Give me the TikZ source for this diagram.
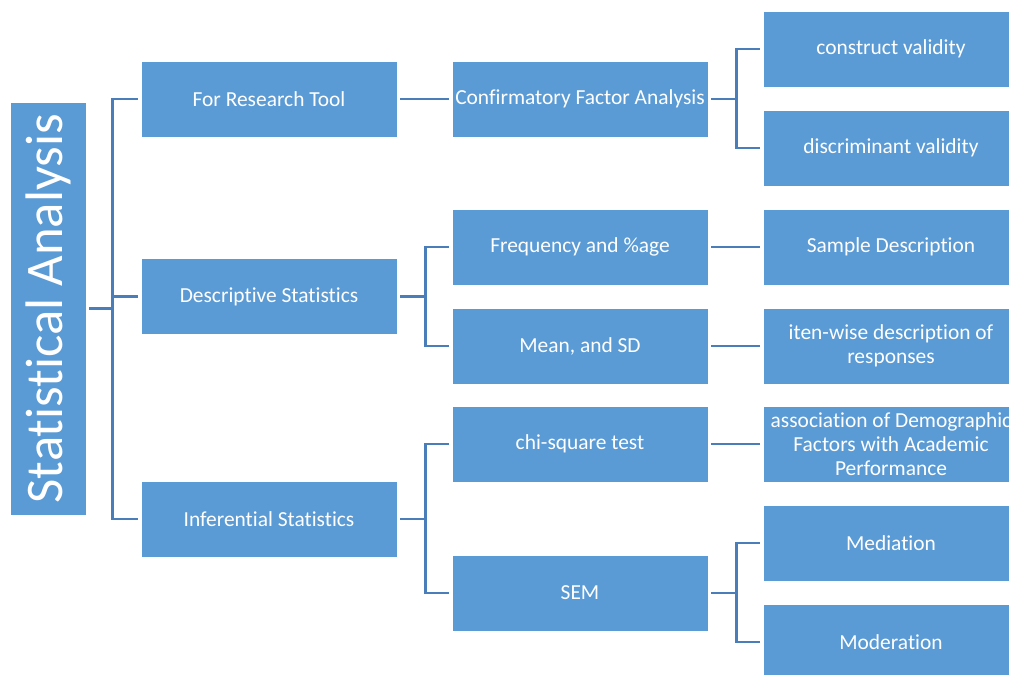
\documentclass[tikz,border=0pt]{standalone}
\usepackage{fontspec}
\setmainfont{Carlito}[Ligatures=NoCommon]
\usetikzlibrary{positioning}
\definecolor{boxblue}{HTML}{5B9BD5}
\definecolor{linkblue}{HTML}{4A7EBB}

\begin{document}
\begin{tikzpicture}[x=1bp,y=-1bp,
  box/.style={fill=boxblue,draw=white,line width=0.8bp,text=white,
    minimum width=256bp,minimum height=76bp,inner sep=0pt,align=center,
    font=\fontsize{21.5}{24}\selectfont},
  link/.style={draw=linkblue,line width=2.3bp}]
  \useasboundingbox (0,0) rectangle (1009,675);
  \clip (0,0) rectangle (1009,675);
  % root
  \node[box,rotate=90,minimum width=413bp,minimum height=76bp,
    font=\fontsize{53}{60}\selectfont] (stat) at (48,308.5) {Statistical Analysis};
  % first level
  \node[box] (tool) at (269,99) {For Research Tool};
  \node[box] (desc) at (269,296.5) {Descriptive Statistics};
  \node[box] (infer) at (269,519) {Inferential Statistics};
  % second level
  \node[box] (cfa) at (580,99) {Confirmatory Factor Analysis};
  \node[box] (freq) at (580,247) {Frequency and \%age};
  \node[box] (mean) at (580,346) {Mean, and SD};
  \node[box] (chi) at (580,444) {chi-square test};
  \node[box] (sem) at (580,593) {SEM};
  % third level
  \node[box] (constr) at (891,49) {construct validity};
  \node[box] (discr) at (891,148) {discriminant validity};
  \node[box] (sample) at (891,247) {Sample Description};
  \node[box] (item) at (891,346) {iten-wise description of\\responses};
  \node[box] (assoc) at (891,444) {association of Demographic\\Factors with Academic\\Performance};
  \node[box] (medi) at (891,543) {Mediation};
  \node[box] (moder) at (891,642) {Moderation};

  % connectors
  \foreach \c in {tool,desc,infer}
    \draw[link] ([xshift=3bp]stat.south) -- ++(23,0) |- ([xshift=-3bp]\c.west);
  \draw[link] ([xshift=3bp]tool.east) -- ([xshift=-3bp]cfa.west);
  \foreach \c in {freq,mean}
    \draw[link] ([xshift=3bp]desc.east) -- ++(25,0) |- ([xshift=-3bp]\c.west);
  \foreach \c in {chi,sem}
    \draw[link] ([xshift=3bp]infer.east) -- ++(25,0) |- ([xshift=-3bp]\c.west);
  \foreach \c in {constr,discr}
    \draw[link] ([xshift=3bp]cfa.east) -- ++(25,0) |- ([xshift=-3bp]\c.west);
  \draw[link] ([xshift=3bp]freq.east) -- ([xshift=-3bp]sample.west);
  \draw[link] ([xshift=3bp]mean.east) -- ([xshift=-3bp]item.west);
  \draw[link] ([xshift=3bp]chi.east) -- ([xshift=-3bp]assoc.west);
  \foreach \c in {medi,moder}
    \draw[link] ([xshift=3bp]sem.east) -- ++(25,0) |- ([xshift=-3bp]\c.west);
\end{tikzpicture}
\end{document}
